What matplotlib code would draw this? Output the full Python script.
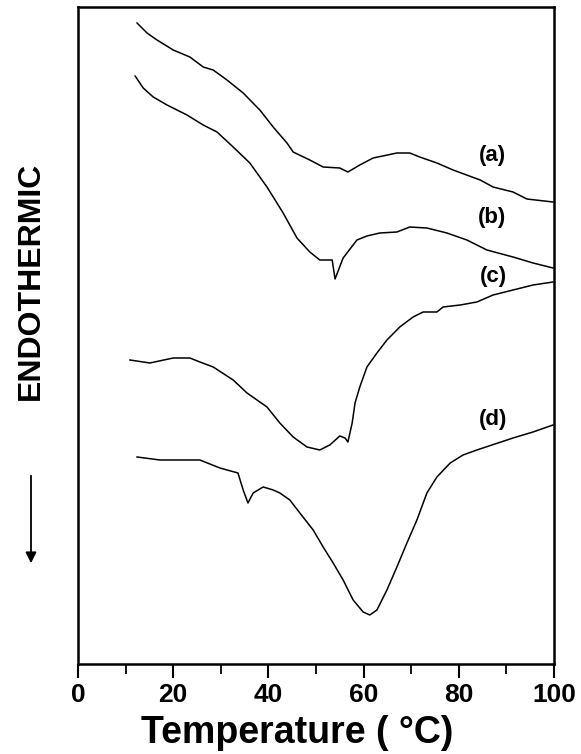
"""
DSC thermograms (a)-(d): endothermic heat flow vs temperature
"""

import matplotlib
matplotlib.use('Agg')
import matplotlib.pyplot as plt

plt.rcParams['font.family'] = ['Liberation Sans', 'DejaVu Sans']

# curve (a)
temp_a = [12.4, 14.5, 16.6, 20.0, 23.5, 26.3, 28.4, 31.3, 34.7, 38.2, 41.0, 43.9,
          45.2, 48.7, 51.5, 55.0, 56.7, 59.2, 62.0, 67.0, 69.7, 71.8, 75.4, 78.8,
          84.5, 87.2, 91.4, 94.3, 99.8]
heat_a = [641, 631, 624, 614, 607, 597, 594, 584, 571, 554, 537, 521,
          512, 504, 497, 496, 492, 499, 506, 511, 511, 507, 501, 494,
          484, 477, 472, 465, 462]

# curve (b)
temp_b = [12.0, 13.7, 15.8, 18.7, 22.9, 26.3, 29.2, 32.6, 36.1, 39.7, 43.1, 46.0,
          48.7, 50.8, 53.4, 54.0, 55.7, 58.6, 60.7, 63.4, 67.0, 69.7, 73.3, 77.5,
          81.7, 85.9, 91.4, 95.6, 99.8]
heat_b = [588, 576, 567, 559, 549, 539, 532, 517, 501, 477, 451, 426,
          412, 404, 404, 385, 406, 424, 428, 431, 432, 437, 436, 431,
          424, 414, 407, 401, 396]

# curve (c)
temp_c = [10.9, 15.1, 20.0, 23.5, 25.6, 28.4, 32.6, 35.5, 39.7, 42.4, 45.2, 48.1,
          50.8, 52.9, 55.0, 56.1, 56.7, 57.6, 58.2, 59.2, 60.7, 62.8, 64.9, 67.6,
          70.4, 72.5, 75.4, 76.7, 80.3, 83.8, 87.2, 91.4, 95.6, 99.8]
heat_c = [304, 301, 306, 306, 302, 297, 284, 271, 257, 241, 227, 217,
          214, 219, 228, 226, 222, 241, 261, 277, 297, 311, 324, 337,
          347, 352, 352, 357, 359, 362, 369, 374, 379, 382]

# curve (d)
temp_d = [12.4, 17.2, 25.6, 29.8, 33.6, 34.7, 35.7, 36.8, 38.9, 41.0, 42.4, 44.5,
          46.6, 49.4, 51.5, 53.6, 55.7, 57.8, 59.9, 61.3, 62.8, 64.9, 67.0, 69.1,
          71.2, 73.3, 75.4, 78.2, 80.9, 83.8, 91.4, 95.6, 99.8]
heat_d = [207, 204, 204, 196, 191, 174, 161, 171, 177, 174, 171, 164,
          151, 134, 117, 101, 84, 64, 52, 49, 54, 74, 97, 121,
          144, 171, 187, 201, 209, 214, 226, 232, 239]

labels = ['(a)', '(b)', '(c)', '(d)']
label_temp = [87.0, 87.0, 87.2, 87.2]
label_heat = [509, 446, 387, 244]

fig = plt.figure(figsize=(5.81, 7.54), dpi=100)
ax = fig.add_axes([0.1343, 0.1194, 0.8192, 0.8713])

for t, h in [(temp_a, heat_a), (temp_b, heat_b), (temp_c, heat_c), (temp_d, heat_d)]:
    ax.plot(t, h, color='black', linewidth=1.1)

for lab, t, h in zip(labels, label_temp, label_heat):
    ax.text(t, h, lab, fontsize=16, fontweight='bold', ha='center', va='center')

ax.set_xlim(0, 100)
ax.set_ylim(0, 657)
ax.set_xticks([0, 20, 40, 60, 80, 100])
ax.set_xticks([10, 30, 50, 70, 90], minor=True)
ax.set_yticks([])
ax.tick_params(axis='x', which='major', direction='out', length=10, width=1.5,
               labelsize=19, pad=4)
ax.tick_params(axis='x', which='minor', direction='out', length=7, width=1.3)
for lbl in ax.get_xticklabels():
    lbl.set_fontweight('bold')
for sp in ax.spines.values():
    sp.set_linewidth(1.8)

fig.text(297 / 581, 1 - 733 / 754, 'Temperature ( °C)', fontsize=27,
         fontweight='bold', ha='center', va='center')
fig.text(31 / 581, 1 - 281 / 754, 'ENDOTHERMIC', fontsize=23,
         fontweight='bold', rotation=90, ha='center', va='center')

# downward arrow under the y label
ax.annotate('', xy=(31 / 581, 1 - 566 / 754), xytext=(31 / 581, 1 - 473 / 754),
            xycoords='figure fraction', textcoords='figure fraction',
            arrowprops=dict(arrowstyle='-|>', color='black', lw=1.3,
                            mutation_scale=16))

plt.savefig('out.png', dpi=100)
